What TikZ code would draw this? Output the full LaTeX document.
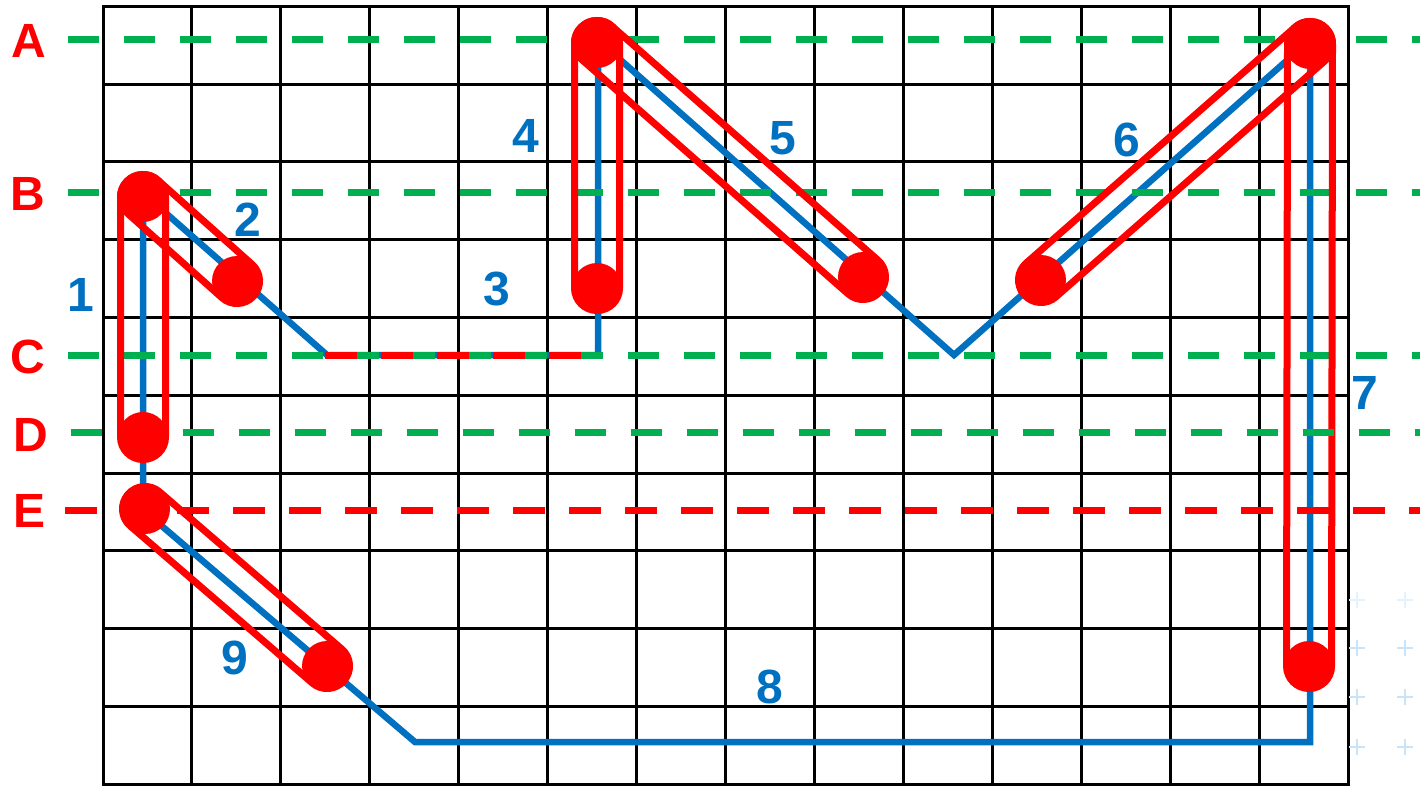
\documentclass[tikz,border=0pt]{standalone}
\usepackage{fontspec}
\setmainfont{Liberation Sans}
\usetikzlibrary{calc}
\definecolor{myblue}{RGB}{0,112,192}
\definecolor{mygreen}{RGB}{0,176,80}
\definecolor{myred}{RGB}{255,0,0}
\definecolor{ghost}{RGB}{200,228,248}
\definecolor{ghostpale}{RGB}{228,242,252}
\newcommand\capsulebox[3]{%
  \path let \p1=(#1), \p2=(#2),
    \n1={atan2(\y2-\y1,\x2-\x1)},
    \n2={veclen(\x2-\x1,\y2-\y1)+45}
  in node[capsule, minimum width=\n2, rotate=\n1] (#3) at ($(#1)!0.5!(#2)$) {};%
}
\begin{document}
\begin{tikzpicture}[x=1pt,y=-1pt,
  gridline/.style={black, line width=3pt, line cap=rect},
  bluepath/.style={myblue, line width=6.5pt, line join=miter},
  gdash/.style={mygreen, line width=7pt, dash pattern=on 31pt off 25pt},
  rdash/.style={myred, line width=7pt, dash pattern=on 32pt off 24pt},
  capsule/.style={draw=myred, line width=7pt, rectangle, rounded corners=22.4pt,
    minimum height=45pt, inner sep=0pt, outer sep=0pt},
  dot/.style={circle, fill=myred, minimum size=50pt, inner sep=0pt, outer sep=0pt},
  lettr/.style={text=myred, font=\fontsize{48}{48}\selectfont\bfseries, inner sep=0pt},
  numlbl/.style={text=myblue, font=\fontsize{48}{48}\selectfont\bfseries, inner sep=0pt},
  ghostplus/.style={ghost, line width=2pt},
  ghostplusfaint/.style={ghostpale, line width=2pt}
]
% canvas
\fill[white] (0,0) rectangle (1420,786);
\useasboundingbox (0,0) rectangle (1420,786);

% grid
\foreach \k in {0,...,14}
  \draw[gridline] ({103+\k*88.93},6.5) -- ({103+\k*88.93},784);
\foreach \j in {0,...,10}
  \draw[gridline] (103,{6.5+\j*77.75}) -- (1348,{6.5+\j*77.75});

% faint plus marks (bottom right)
\foreach \px in {1357,1405}{
  \draw[ghostplusfaint] (\px-8,600) -- (\px+8,600) (\px,592) -- (\px,608);
  \foreach \py in {648,697,747}
    \draw[ghostplus] (\px-8,\py) -- (\px+8,\py) (\px,\py-8) -- (\px,\py+8);
}

% blue path vertices
\coordinate (v1) at (143,510);
\coordinate (v2) at (143,193);
\coordinate (v3) at (327,355);
\coordinate (v4) at (598,355);
\coordinate (v5) at (598,40);
\coordinate (v6) at (954,355);
\coordinate (v7) at (1310,40);
\coordinate (v8) at (1310,742);
\coordinate (v9) at (415,742);
\draw[bluepath] (v1) -- (v2) -- (v3) -- (v4) -- (v5) -- (v6) -- (v7) -- (v8) -- (v9) -- cycle;

% dashed level lines
\coordinate (As) at (68,40);  \coordinate (Ae) at (1424,40);
\coordinate (Bs) at (68,193); \coordinate (Be) at (1424,193);
\coordinate (Cs) at (68,355); \coordinate (Ce) at (1424,355);
\coordinate (Ds) at (71,432); \coordinate (De) at (1424,432);
\coordinate (Es) at (65,510); \coordinate (Ee) at (1424,510);
\draw[gdash] (As) -- (Ae);
\draw[gdash] (Bs) -- (Be);
\draw[gdash] (Cs) -- (Ce);
\draw[rdash] (Es) -- (Ee);
\coordinate (r3s) at (325,355); \coordinate (r3e) at (581,355);
\draw[rdash] (r3s) -- (r3e);

% capsule end points
\coordinate (pB) at (143,197);
\coordinate (p2) at (237,281);
\coordinate (pD) at (143,437);
\coordinate (pE) at (145,509);
\coordinate (p9) at (327,666);
\coordinate (pA4) at (597,43);
\coordinate (p4) at (597,288);
\coordinate (p5) at (863,277);
\coordinate (p6) at (1041,280);
\coordinate (pA7) at (1310,44);
\coordinate (p7) at (1309,666);

% capsules
\capsulebox{pB}{pD}{cap1}
\capsulebox{pB}{p2}{cap2}
\capsulebox{pA4}{p4}{cap4}
\capsulebox{pA4}{p5}{cap5}
\capsulebox{p6}{pA7}{cap6}
\capsulebox{pA7}{p7}{cap7}
\capsulebox{pE}{p9}{cap9}

% D line lies over the capsule outlines
\draw[gdash] (Ds) -- (De);

% end dots
\foreach \c in {pB,p2,pD,pE,p9,pA4,p4,p5,p6,pA7,p7}
  \node[dot] (d\c) at (\c) {};

% level letters
\node[lettr] (lA) at (29,41) {A};
\node[lettr] (lB) at (28,194) {B};
\node[lettr] (lC) at (28,357) {C};
\node[lettr] (lD) at (31,435) {D};
\node[lettr] (lE) at (30,511) {E};

% segment numbers
\node[numlbl] (n1) at (81,295) {1};
\node[numlbl] (n2) at (248,220) {2};
\node[numlbl] (n3) at (497,289) {3};
\node[numlbl] (n4) at (526,136) {4};
\node[numlbl] (n5) at (783,138) {5};
\node[numlbl] (n6) at (1127,140) {6};
\node[numlbl] (n7) at (1365,393) {7};
\node[numlbl] (n8) at (770,687) {8};
\node[numlbl] (n9) at (235,658) {9};
\end{tikzpicture}
\end{document}
